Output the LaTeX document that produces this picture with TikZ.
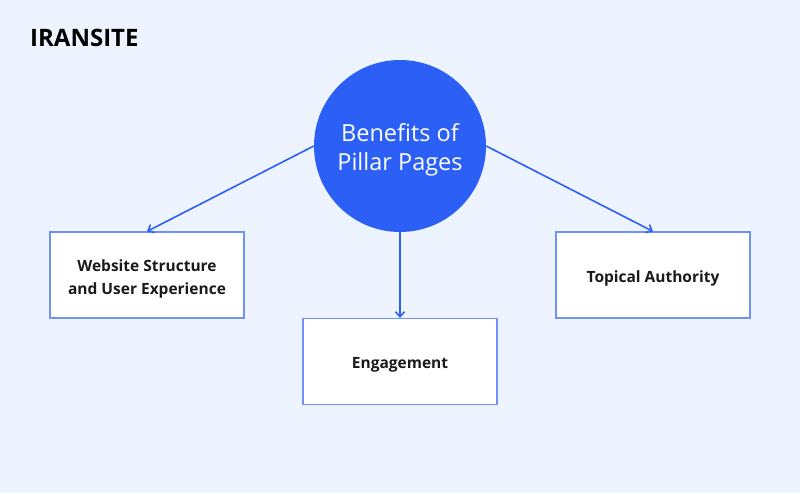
\documentclass[tikz,border=0pt]{standalone}
\usepackage{fontspec}
\setmainfont{Open Sans}
\usetikzlibrary{arrows.meta}
\definecolor{bg}{HTML}{EEF4FF}
\definecolor{mainblue}{HTML}{2B5FF5}
\definecolor{boxline}{HTML}{6F92F7}
\definecolor{txt}{HTML}{1A1A1A}
\tikzset{
  card/.style={draw=boxline, line width=1.2pt, fill=white, minimum width=194pt, minimum height=86pt, inner sep=0pt},
  cardtext/.style={align=center, font=\fontsize{15.5}{23}\selectfont\bfseries, text=txt, inner sep=0pt, yshift=-3.5pt},
  link/.style={draw=mainblue, line width=1.6pt, -{Straight Barb[length=5pt,width=9pt,line width=1.6pt]}}
}
\begin{document}
\begin{tikzpicture}[x=1pt,y=-1pt]
\path[fill=bg] (0,0) rectangle (800,493);
\useasboundingbox (0,0) rectangle (800,493);
\node[anchor=west, font=\fontsize{24}{28}\selectfont\bfseries, text=black, inner sep=0pt] (logo) at (30,38) {IRANSITE};
\node[circle, fill=mainblue, minimum size=172pt, inner sep=0pt,
  label={[align=center, text=white, font=\fontsize{23.5}{29}\selectfont, inner sep=0pt, yshift=-4pt]center:{Benefits of\\Pillar Pages}}] (hub) at (400,146) {};
\node[card, label={[cardtext]center:{Website Structure\\and User Experience}}] (web) at (147,275) {};
\node[card, label={[cardtext]center:{Engagement}}] (eng) at (400,361.5) {};
\node[card, label={[cardtext]center:{Topical Authority}}] (top) at (653,275) {};
\draw[link] (hub.180) -- (web.north);
\draw[link] (hub.south) -- (eng.north);
\draw[link] (hub.0) -- (top.north);
\end{tikzpicture}
\end{document}
